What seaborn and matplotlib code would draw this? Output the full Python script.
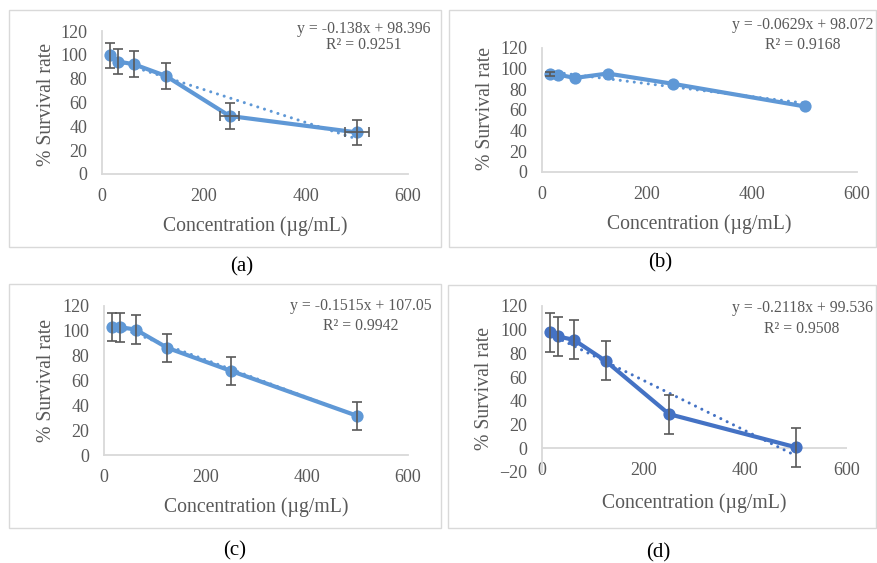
import numpy as np
import pandas as pd
import matplotlib
matplotlib.use("Agg")
import matplotlib.pyplot as plt
import seaborn as sns
from matplotlib.patches import Rectangle

# ---------------- data ----------------
conc = [15.6, 31.25, 62.5, 125, 250, 500]

surv_a = [99.5, 94.4, 92.1, 82.3, 48.7, 34.9]
yerr_a = [10.5, 10.8, 10.8, 11.0, 11.0, 10.8]
xerr_a = [0, 0, 0, 0, 18, 24]

surv_b = [94.5, 94.2, 91.0, 95.3, 85.3, 63.5]
yerr_b = [2.0, 0, 0, 0, 0, 0]
xerr_b = [0, 0, 0, 0, 0, 0]

surv_c = [103.1, 103.0, 101.0, 86.3, 67.8, 31.5]
yerr_c = [11.6, 11.6, 11.5, 11.5, 11.5, 11.5]
xerr_c = [0, 0, 0, 0, 0, 0]

surv_d = [98.0, 94.3, 91.5, 73.7, 28.8, 0.8]
yerr_d = [16.4, 16.4, 16.4, 16.4, 16.4, 16.5]
xerr_d = [0, 0, 0, 0, 0, 0]

slopes = [-0.138, -0.0629, -0.1515, -0.2118]
intercepts = [98.396, 98.072, 107.05, 99.536]
eq_labels = ["y = -0.138x + 98.396", "y = -0.0629x + 98.072",
             "y = -0.1515x + 107.05", "y = -0.2118x + 99.536"]
r2_labels = ["R² = 0.9251", "R² = 0.9168", "R² = 0.9942", "R² = 0.9508"]
panel_labels = ["(a)", "(b)", "(c)", "(d)"]
y_ticks_std = [0, 20, 40, 60, 80, 100, 120]
y_ticks_d = [-20, 0, 20, 40, 60, 80, 100, 120]
x_ticks = [0, 200, 400, 600]

# ---------------- style ----------------
sns.set_theme(style="white")
plt.rcParams['font.family'] = ['Liberation Serif', 'DejaVu Serif']
TXT = '#595959'
AXC = '#D9D9D9'
LIGHT = '#5F98D6'
DARK = '#4472C4'

W, H = 877, 563
fig = plt.figure(figsize=(W / 100, H / 100), dpi=100)
fig.patch.set_facecolor('white')


def fx(x):
    return x / W


def fy(y):
    return 1 - y / H


# panel frames (pixels: x0, y0, x1, y1)
frames = [(9, 10, 441, 247), (449, 10, 876, 247), (9, 284, 441, 528), (448, 285, 876, 528)]
for (x0, y0, x1, y1) in frames:
    fig.patches.append(Rectangle((fx(x0), fy(y1)), fx(x1) - fx(x0), fy(y0) - fy(y1),
                                 transform=fig.transFigure, fill=False,
                                 edgecolor=AXC, linewidth=1.0))

# axes boxes (pixels: left, top, right, bottom)
boxes = [(102, 31, 408, 174), (542, 48, 857, 172), (104, 306, 408, 455), (542, 306, 847, 472)]
ylab_pos = [(-0.183, 0.486), (-0.178, 0.512), (-0.188, 0.503), (-0.187, 0.50)]
xlab_y = [-0.368, -0.419, -0.347, -0.185]
xpad = [10, 10, 10, -7]
eq_pos = [(364, 29, 45), (803, 25, 45), (361, 306, 326), (802, 308, 329)]
plab_pos = [(242, 267), (660, 263), (235, 551), (658, 553)]

series = [(surv_a, yerr_a, xerr_a), (surv_b, yerr_b, xerr_b),
          (surv_c, yerr_c, xerr_c), (surv_d, yerr_d, xerr_d)]
colors = [LIGHT, LIGHT, LIGHT, DARK]

for i in range(4):
    l, t, r, b = boxes[i]
    ax = fig.add_axes([fx(l), fy(b), fx(r) - fx(l), fy(t) - fy(b)])
    ax.set_facecolor('none')
    surv, yerr, xerr = series[i]
    c = colors[i]
    df = pd.DataFrame({'conc': conc, 'surv': surv})

    # trendline (round dots)
    xs = np.array([min(conc), max(conc)])
    ys = slopes[i] * xs + intercepts[i]
    ax.plot(xs, ys, linestyle=(0, (0.01, 2.3)), linewidth=2.2, color=c,
            dash_capstyle='round', zorder=2, clip_on=False)

    # main series
    sns.lineplot(data=df, x='conc', y='surv', ax=ax, color=c, linewidth=3.0,
                 marker='o', markersize=8.8, markeredgewidth=0, errorbar=None,
                 zorder=3, clip_on=False)

    # error bars
    yarr = np.array(yerr, dtype=float)
    xarr = np.array(xerr, dtype=float)
    cx = np.array(conc)
    sy = np.array(surv)
    m = yarr > 0
    if m.any():
        ax.errorbar(cx[m], sy[m], yerr=yarr[m], fmt='none', ecolor='#595959',
                    elinewidth=1.2, capsize=3.5, capthick=1.2, zorder=4, clip_on=False)
    m = xarr > 0
    if m.any():
        ax.errorbar(cx[m], sy[m], xerr=xarr[m], fmt='none', ecolor='#595959',
                    elinewidth=1.2, capsize=3.5, capthick=1.2, zorder=4, clip_on=False)

    ax.set_xlim(0, 600)
    if i == 3:
        ax.set_ylim(-20, 120)
        ax.set_yticks(y_ticks_d)
        ax.axhline(0, color=AXC, linewidth=1.3, zorder=1)
        ax.spines['bottom'].set_visible(False)
    else:
        ax.set_ylim(0, 120)
        ax.set_yticks(y_ticks_std)
        ax.spines['bottom'].set_color(AXC)
        ax.spines['bottom'].set_linewidth(1.3)
    ax.set_xticks(x_ticks)
    for s in ['top', 'right']:
        ax.spines[s].set_visible(False)
    ax.spines['left'].set_color(AXC)
    ax.spines['left'].set_linewidth(1.3)
    ax.tick_params(axis='y', length=0, pad=10.5, labelsize=13, labelcolor=TXT)
    ax.tick_params(axis='x', length=0, pad=xpad[i], labelsize=13, labelcolor=TXT)
    ax.grid(False)

    ax.set_xlabel('Concentration (µg/mL)', fontsize=14.2, color=TXT, va='center')
    ax.xaxis.set_label_coords(0.5, xlab_y[i])
    ax.set_ylabel('% Survival rate', fontsize=14.2, color=TXT, va='center')
    ax.yaxis.set_label_coords(*ylab_pos[i])

    ex, ey1, ey2 = eq_pos[i]
    fig.text(fx(ex), fy(ey1), eq_labels[i], ha='center', va='center', fontsize=11.3, color=TXT)
    fig.text(fx(ex), fy(ey2), r2_labels[i], ha='center', va='center', fontsize=11.3, color=TXT)
    px, py = plab_pos[i]
    fig.text(fx(px), fy(py), panel_labels[i], ha='center', va='center', fontsize=15, color='black')

fig.savefig('out.png', dpi=100, facecolor='white')
